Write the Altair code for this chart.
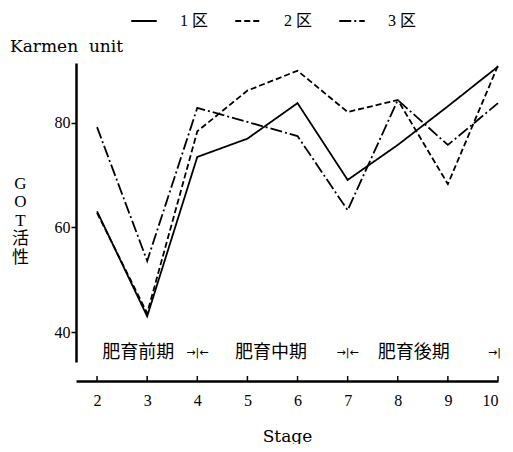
import altair as alt
import pandas as pd

stages = [2, 3, 4, 5, 6, 7, 8, 9, 10]
plot1 = [63.1, 43.0, 73.5, 77.0, 83.8, 69.1, 75.8, 83.2, 90.8]
plot2 = [62.8, 43.6, 78.4, 86.2, 90.0, 82.1, 84.4, 68.3, 91.0]
plot3 = [79.2, 53.6, 82.9, 80.2, 77.5, 63.3, 84.4, 75.8, 83.8]
series_names = ["1 区", "2 区", "3 区"]
y_ticks = [40, 60, 80]
period_labels = ["肥育前期", "肥育中期", "肥育後期"]
period_x = [2.82, 5.47, 8.32]
boundary_x = [4, 7]
end_x = [10]
y_title_lines = ["G", "O", "T", "活", "性"]
unit_label = "Karmen\u00a0\u00a0unit"
x_title = "Stage"

rows = []
for name, vals in zip(series_names, [plot1, plot2, plot3]):
    for s, v in zip(stages, vals):
        rows.append({"stage": s, "value": v, "series": name})
df = pd.DataFrame(rows)

SERIF = "'Liberation Serif', 'Noto Sans CJK JP', serif"
SERIF2 = "'DejaVu Serif', serif"
CJK = "'Noto Sans CJK JP', sans-serif"

W, H = 422, 299
xscale = alt.Scale(domain=[1.58, 10], nice=False, zero=False)
yscale = alt.Scale(domain=[34.26, 91.48], nice=False, zero=False)

lines = alt.Chart(df).mark_line(color="black", strokeWidth=1.8).encode(
    x=alt.X("stage:Q", scale=xscale,
            axis=alt.Axis(values=stages, ticks=False, tickSize=0, domainWidth=2.5,
                          domainColor="black", offset=19, labelFont=SERIF,
                          labelFontSize=16, labelColor="black", labelPadding=11,
                          title=x_title, titleFont=SERIF2, titleFontSize=17,
                          titleFontWeight="normal", titleColor="black",
                          titlePadding=20, grid=False)),
    y=alt.Y("value:Q", scale=yscale,
            axis=alt.Axis(values=y_ticks, tickSize=5, tickWidth=1.5, tickColor="black",
                          domainWidth=2.5, domainColor="black", labelFont=SERIF,
                          labelFontSize=16, labelColor="black", labelPadding=1,
                          title=y_title_lines, titleAngle=0, titleFont=SERIF,
                          titleFontSize=17, titleFontWeight="normal",
                          titleColor="black", titleLineHeight=18.5,
                          titleAlign="center", titleBaseline="top",
                          titleX=-56, titleY=112, grid=False)),
    strokeDash=alt.StrokeDash(
        "series:N",
        scale=alt.Scale(domain=series_names, range=[[1, 0], [6, 3], [12, 3, 2, 3]]),
        legend=alt.Legend(orient="none", legendX=54, legendY=-56, direction="horizontal",
                          title=None, symbolType="stroke", symbolSize=650,
                          symbolStrokeWidth=2, symbolStrokeColor="black",
                          labelFont=SERIF, labelFontSize=16, labelColor="black",
                          labelOffset=22, columnPadding=22),
    ),
    detail="series:N",
)

xticks_df = pd.DataFrame({"stage": stages})
xticks = alt.Chart(xticks_df).mark_rule(color="black", strokeWidth=1.5).encode(
    x=alt.X("stage:Q", scale=xscale),
    y=alt.value(H + 19 - 5),
    y2=alt.value(H + 19),
)

period_df = pd.DataFrame({"px": period_x, "label": period_labels})
periods = alt.Chart(period_df).mark_text(font=CJK, fontSize=18, color="black",
                                         baseline="middle").encode(
    x=alt.X("px:Q", scale=xscale), y=alt.value(290), text="label:N")

bnd_df = pd.DataFrame({"bx": boundary_x})
bnds = alt.Chart(bnd_df).mark_text(font="DejaVu Sans", fontSize=11, color="black",
                                   baseline="middle", text="→|←").encode(
    x=alt.X("bx:Q", scale=xscale), y=alt.value(290))

end_df = pd.DataFrame({"ex": end_x})
ends = alt.Chart(end_df).mark_text(font="DejaVu Sans", fontSize=11, color="black",
                                   baseline="middle", align="right", dx=3, text="→|").encode(
    x=alt.X("ex:Q", scale=xscale), y=alt.value(290))

unit_df = pd.DataFrame({"t": [unit_label]})
unit = alt.Chart(unit_df).mark_text(font=SERIF2, fontSize=17, color="black",
                                    align="left", baseline="alphabetic").encode(
    x=alt.value(-66), y=alt.value(-11), text="t:N")

chart = alt.layer(lines, xticks, periods, bnds, ends, unit).properties(
    width=W, height=H,
    padding={"left": 68, "top": 55, "right": 7, "bottom": 82},
    autosize=alt.AutoSizeParams(type="none"),
).configure_view(stroke=None)

chart.save("out.html", embed_options={"renderer": "svg", "actions": False})
